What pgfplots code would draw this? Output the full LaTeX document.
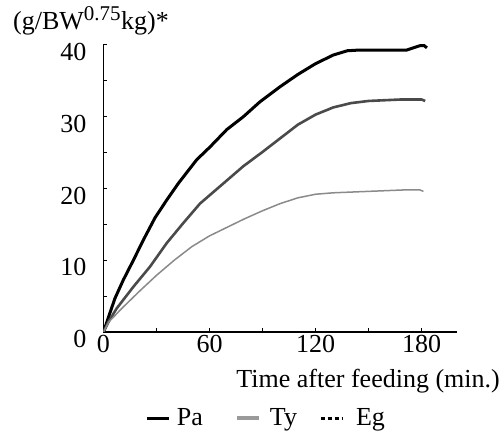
\documentclass[border=0pt]{standalone}
\usepackage{fontspec}
\setmainfont{Liberation Serif}
\usepackage{pgfplots}
\pgfplotsset{compat=1.18}
\definecolor{darkline}{HTML}{4A4A4A}
\definecolor{lightline}{HTML}{8A8A8A}
\definecolor{legty}{HTML}{9A9A9A}
\begin{document}
\begin{tikzpicture}[font=\fontsize{26}{30}\selectfont]
\begin{axis}[
  scale only axis,
  width=353.5pt, height=287pt,
  xmin=0, xmax=200, ymin=0, ymax=40,
  axis lines=left,
  axis line style={-, line width=1.4pt},
  tick align=inside,
  major tick length=4pt,
  tick style={black, line width=1pt},
  xtick={0,30,...,180}, xticklabels={0,,60,,120,,180},
  ytick={0,5,...,40}, yticklabels={0,,10,,20,,30,,40},
  /pgf/number format/assume math mode=true,
  xticklabel style={inner sep=0pt, yshift=-3pt},
  yticklabel style={inner sep=0pt, xshift=-17pt, yshift=-7pt},
  legend columns=3,
  legend style={at={(0.461,-0.300)}, anchor=center, draw=none, fill=none,
    inner sep=0pt,
    /tikz/every even column/.append style={column sep=7pt},
    /tikz/every odd column/.append style={column sep=0pt}},
  legend cell align=left,
  legend image code/.code={\draw[#1] (0pt,0pt) -- (22pt,0pt);},
]
\addplot[black, line width=3pt, forget plot] coordinates {
(0,0) (3,2.2) (6.5,4.7) (11.2,7.25) (16.9,10.0) (22.5,12.8) (29.1,15.9)
(35.8,18.4) (42.3,20.7) (52.7,24.0) (60.3,25.8) (69.7,28.2) (79.1,30.0)
(88.6,32.1) (100,34.2) (110,35.9) (120,37.4) (130,38.6) (138,39.2)
(145,39.3) (160,39.3) (171.6,39.3) (175.3,39.6) (179,39.9) (181.5,39.9) (183,39.6)
};
\addplot[darkline, line width=2.6pt, forget plot] coordinates {
(0,0) (3,1.5) (7.5,3.3) (16.9,6.3) (26.3,9.1) (35.8,12.4) (45.2,15.2)
(54.6,17.9) (67.8,20.7) (79.1,23.1) (90,25.1) (100,27.0) (110,28.9)
(120,30.3) (130,31.3) (140,31.9) (150,32.2) (167.8,32.4) (180,32.4) (182,32.2)
};
\addplot[lightline, line width=1.5pt, forget plot] coordinates {
(0,0) (3,1.4) (10,3.2) (20,5.6) (30,7.9) (40,10.0) (50,11.9) (60,13.4)
(70,14.6) (80,15.8) (90,16.9) (100,17.9) (110,18.7) (120,19.2) (130,19.4)
(150,19.6) (170,19.8) (179,19.8) (181,19.6)
};
\addlegendimage{black, line width=3pt}
\addlegendentry{\kern4pt Pa\kern23pt}
\addlegendimage{legty, line width=4pt}
\addlegendentry{\kern7pt Ty\kern13pt}
\addlegendimage{black, line width=3pt, dash pattern=on 4pt off 3pt}
\addlegendentry{\kern10pt Eg}
\end{axis}
\node[anchor=base west, inner sep=0pt] at (-90.5pt,302.7pt)
  {(g/BW\textsuperscript{\fontsize{21}{24}\selectfont 0.75}kg)*};
\node[anchor=base east, inner sep=0pt] at (396.5pt,-56pt)
  {Time after feeding (min.)};
\pgfresetboundingbox
\path (-103.5pt,-101pt) rectangle (400.5pt,332pt);
\end{tikzpicture}
\end{document}
